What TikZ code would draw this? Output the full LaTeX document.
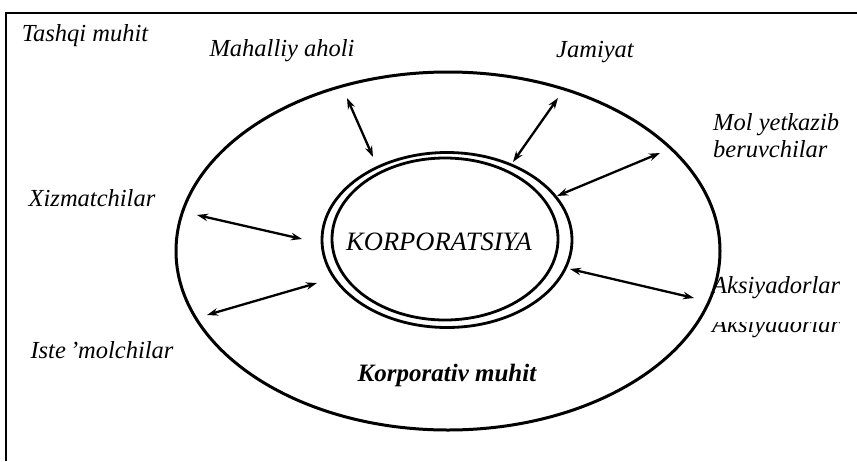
\documentclass[tikz,border=0pt]{standalone}
\usepackage{fontspec}
\setmainfont{Liberation Serif}
\usetikzlibrary{arrows.meta,shapes.geometric}
\begin{document}
\begin{tikzpicture}[x=1pt,y=-1pt,
  lbl/.style={font=\fontsize{24.5}{27}\selectfont\itshape, inner sep=0pt},
  blbl/.style={font=\fontsize{25}{27}\selectfont\bfseries\itshape, inner sep=0pt},
  ring/.style={draw, ellipse, inner sep=0pt},
  arr/.style={{Stealth[length=11pt,width=7.5pt]}-{Stealth[length=11pt,width=7.5pt]}, line width=2.3pt},
  frameline/.style={line width=2.5pt}]
\useasboundingbox (0,0) rectangle (857,461);
% frame
\coordinate (fbl) at (6,461);
\coordinate (ftl) at (6,13);
\coordinate (ftr) at (857,13);
\draw[frameline] (fbl) -- (ftl) -- (ftr);
% ellipses
\node[ring, line width=3pt, minimum width=544pt, minimum height=358pt] (env) at (448,251) {};
\node[ring, line width=2.8pt, minimum width=250pt, minimum height=175pt] (corpout) at (447,240) {};
\node[ring, line width=2.8pt, minimum width=226pt, minimum height=162pt] (corpin) at (445,239) {};
\node[lbl, font=\fontsize{26.5}{28}\selectfont\itshape] (corp) at (439,242) {KORPORATSIYA};
% labels
\node[lbl] (tashqi) at (85,36) {Tashqi muhit};
\node[lbl] (mahalliy) at (282,51) {Mahalliy aholi};
\node[lbl] (jamiyat) at (595,52) {Jamiyat};
\node[lbl, anchor=west, align=left] (mol) at (713,136) {Mol yetkazib\\beruvchilar};
\node[lbl] (xizmat) at (92,198) {Xizmatchilar};
\node[lbl] (istemol) at (102,350) {Iste\,’molchilar};
\node[lbl, anchor=west] (aksiya) at (712,288) {Aksiyadorlar};
\begin{scope}
\clip (700,322) rectangle (857,345);
\node[lbl, anchor=west] (aksiyab) at (712,327) {Aksiyadorlar};
\end{scope}
\node[blbl] (korpmuhit) at (447,375) {Korporativ muhit};
% arrow ends
\coordinate (a1o) at (347,98);  \coordinate (a1i) at (373,157);
\coordinate (a2o) at (558,98);  \coordinate (a2i) at (513,162);
\coordinate (a3o) at (660,153); \coordinate (a3i) at (557,196);
\coordinate (a4o) at (197,215); \coordinate (a4i) at (302,239);
\coordinate (a5o) at (207,315); \coordinate (a5i) at (317,283);
\coordinate (a6o) at (694,298); \coordinate (a6i) at (570,269);
\draw[arr] (a1o) -- (a1i);
\draw[arr] (a2o) -- (a2i);
\draw[arr] (a3o) -- (a3i);
\draw[arr] (a4o) -- (a4i);
\draw[arr] (a5o) -- (a5i);
\draw[arr] (a6o) -- (a6i);
\end{tikzpicture}
\end{document}
